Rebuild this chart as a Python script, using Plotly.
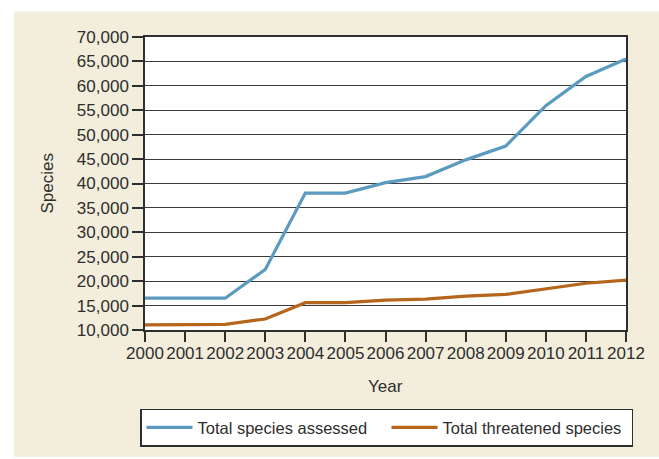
import plotly.graph_objects as go

# IUCN Red List totals by year
years = [2000, 2001, 2002, 2003, 2004, 2005, 2006, 2007, 2008, 2009, 2010, 2011, 2012]
assessed = [16507, 16507, 16507, 22400, 38047, 38047, 40177, 41415, 44838, 47677, 55926, 61914, 65518]
threatened = [11046, 11046, 11167, 12259, 15589, 15589, 16118, 16306, 16928, 17291, 18351, 19570, 20219]

y_ticks = list(range(10000, 70001, 5000))
y_tick_labels = [f"{v:,}" for v in y_ticks]

BLUE = "#5b9bc0"
BROWN = "#b5661c"
BEIGE = "#f3eddb"
INK = "#2e2e2e"
FONT = "Liberation Sans, Arial, sans-serif"

fig = go.Figure()
fig.add_trace(go.Scatter(x=years, y=assessed, mode="lines", name="Total species assessed",
                         line=dict(color=BLUE, width=3.2)))
fig.add_trace(go.Scatter(x=years, y=threatened, mode="lines", name="Total threatened species",
                         line=dict(color=BROWN, width=3.2)))

W, H = 659, 459
L, R, T, B = 145, 33, 37, 124
pw, ph = W - L - R, H - T - B


def px_x(p):
    return (p - L) / pw


def px_y(p):
    return (H - B - p) / ph


# beige panel behind the chart, white plotting area on top of it
fig.add_shape(type="rect", xref="paper", yref="paper", layer="below",
              x0=px_x(14), x1=px_x(W + 5), y0=px_y(H + 5), y1=px_y(11),
              fillcolor=BEIGE, line=dict(width=0))
fig.add_shape(type="rect", xref="paper", yref="paper", layer="below",
              x0=0, x1=1, y0=0, y1=1, fillcolor="white", line=dict(width=0))

fig.add_annotation(text="Species", xref="paper", yref="paper", x=px_x(47), y=0.5,
                   showarrow=False, textangle=-90, font=dict(family=FONT, size=17, color=INK),
                   xanchor="center", yanchor="middle")
fig.add_annotation(text="Year", xref="paper", yref="paper", x=px_x(385), y=px_y(392),
                   showarrow=False, font=dict(family=FONT, size=17, color=INK),
                   xanchor="center", yanchor="middle")

fig.update_xaxes(range=[2000, 2012], tickmode="array", tickvals=years,
                 ticktext=[str(y) for y in years], tickangle=0,
                 ticks="outside", ticklen=10, tickwidth=1.5, tickcolor=INK,
                 ticklabelstandoff=-3,
                 showline=True, linecolor=INK, linewidth=1.5, mirror=True,
                 showgrid=False, zeroline=False,
                 tickfont=dict(family=FONT, size=17, color=INK))
fig.update_yaxes(range=[10000, 70000], tickmode="array", tickvals=y_ticks,
                 ticktext=y_tick_labels,
                 ticks="outside", ticklen=11, tickwidth=1.5, tickcolor=INK,
                 showline=True, linecolor=INK, linewidth=1.5, mirror=True,
                 showgrid=True, gridcolor="#3a3a3a", gridwidth=1.2, zeroline=False,
                 tickfont=dict(family=FONT, size=17, color=INK))

fig.update_layout(
    width=W, height=H,
    margin=dict(l=L, r=R, t=T, b=B),
    paper_bgcolor="white", plot_bgcolor="white",
    showlegend=True,
    legend=dict(orientation="h", x=px_x(140), y=px_y(415), xanchor="left", yanchor="top",
                bgcolor="white", bordercolor=INK, borderwidth=1.5,
                font=dict(family=FONT, size=16.5, color=INK),
                itemwidth=46, entrywidth=184, entrywidthmode="pixels", tracegroupgap=0),
)

fig.write_html("out.html")
